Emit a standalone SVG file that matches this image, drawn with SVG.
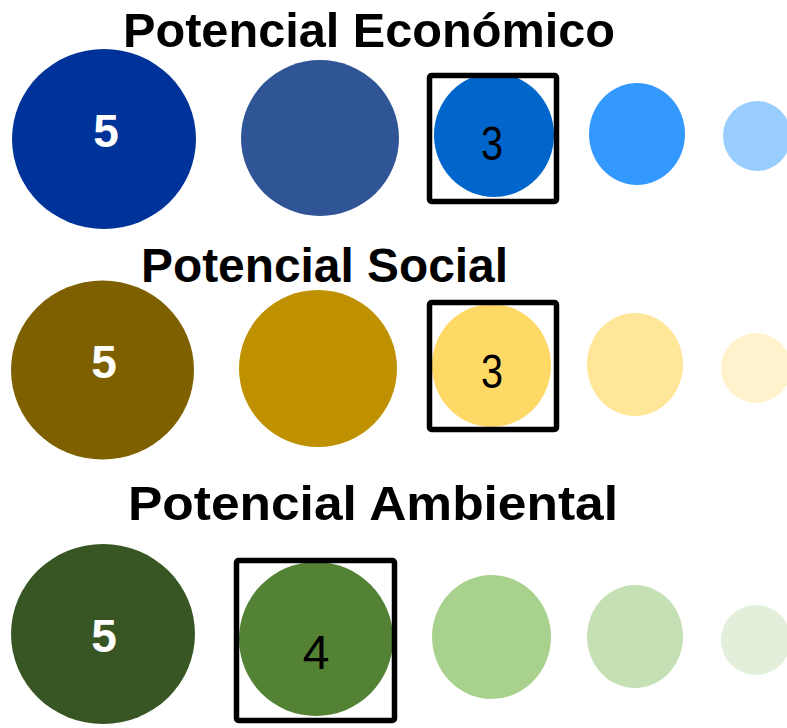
<svg xmlns="http://www.w3.org/2000/svg" width="787" height="728" viewBox="0 0 787 728">
  <style>
    .title { font-family: "Liberation Sans", Arial, sans-serif; font-weight: bold; font-size: 48px; fill: #000; }
    .score-hi { font-family: "Liberation Sans", Arial, sans-serif; font-weight: bold; font-size: 46px; fill: #fff; text-anchor: middle; }
    .score { font-family: "Liberation Sans", Arial, sans-serif; font-size: 48px; fill: #000; text-anchor: middle; }
    .mark { fill: none; stroke: #000; stroke-width: 5.5; stroke-linejoin: round; }
  </style>
  <rect width="787" height="728" fill="#fff"/>

  <!-- Economic potential -->
  <g id="row-economico">
    <text class="title" x="123" y="47" textLength="492" lengthAdjust="spacingAndGlyphs">Potencial Económico</text>
    <g id="eco-5"><ellipse cx="104" cy="139" rx="92" ry="90" fill="#003399"/><text class="score-hi" x="106" y="147">5</text></g>
    <g id="eco-4"><ellipse cx="320" cy="138" rx="79" ry="78" fill="#2F5597"/></g>
    <g id="eco-3"><ellipse cx="494" cy="135" rx="60" ry="62" fill="#0066CC"/><rect class="mark" x="429.5" y="75.5" width="127" height="126" rx="2"/><text class="score" x="492" y="160" textLength="22" lengthAdjust="spacingAndGlyphs">3</text></g>
    <g id="eco-2"><ellipse cx="637" cy="134" rx="48" ry="51" fill="#3399FF"/></g>
    <g id="eco-1"><ellipse cx="757" cy="136" rx="34" ry="35" fill="#99CCFF"/></g>
  </g>

  <!-- Social potential -->
  <g id="row-social">
    <text class="title" x="141" y="282" textLength="367" lengthAdjust="spacingAndGlyphs">Potencial Social</text>
    <g id="soc-5"><ellipse cx="102.5" cy="370" rx="91.5" ry="89.5" fill="#7F6000"/><text class="score-hi" x="104" y="378">5</text></g>
    <g id="soc-4"><ellipse cx="318" cy="368.5" rx="79" ry="78.5" fill="#BF9000"/></g>
    <g id="soc-3"><ellipse cx="491.5" cy="365.5" rx="59.5" ry="61.5" fill="#FFD966"/><rect class="mark" x="429.5" y="302.5" width="127" height="127" rx="2"/><text class="score" x="492" y="388" textLength="22" lengthAdjust="spacingAndGlyphs">3</text></g>
    <g id="soc-2"><ellipse cx="635" cy="364.5" rx="48" ry="51.5" fill="#FFE699"/></g>
    <g id="soc-1"><ellipse cx="756" cy="368" rx="35" ry="35" fill="#FFF2CC"/></g>
  </g>

  <!-- Environmental potential -->
  <g id="row-ambiental">
    <text class="title" x="128" y="520" textLength="490" lengthAdjust="spacingAndGlyphs">Potencial Ambiental</text>
    <g id="amb-5"><ellipse cx="103" cy="634" rx="92" ry="90" fill="#375623"/><text class="score-hi" x="104" y="652">5</text></g>
    <g id="amb-4"><ellipse cx="316" cy="639" rx="77" ry="77" fill="#548235"/><rect class="mark" x="236.5" y="560.5" width="158" height="160" rx="2"/><text class="score" x="316" y="669">4</text></g>
    <g id="amb-3"><ellipse cx="491.5" cy="637" rx="59.5" ry="62" fill="#A9D18E"/></g>
    <g id="amb-2"><ellipse cx="635" cy="636.5" rx="48" ry="51.5" fill="#C5E0B4"/></g>
    <g id="amb-1"><ellipse cx="756" cy="640" rx="35" ry="35" fill="#E2EFDA"/></g>
  </g>
</svg>
